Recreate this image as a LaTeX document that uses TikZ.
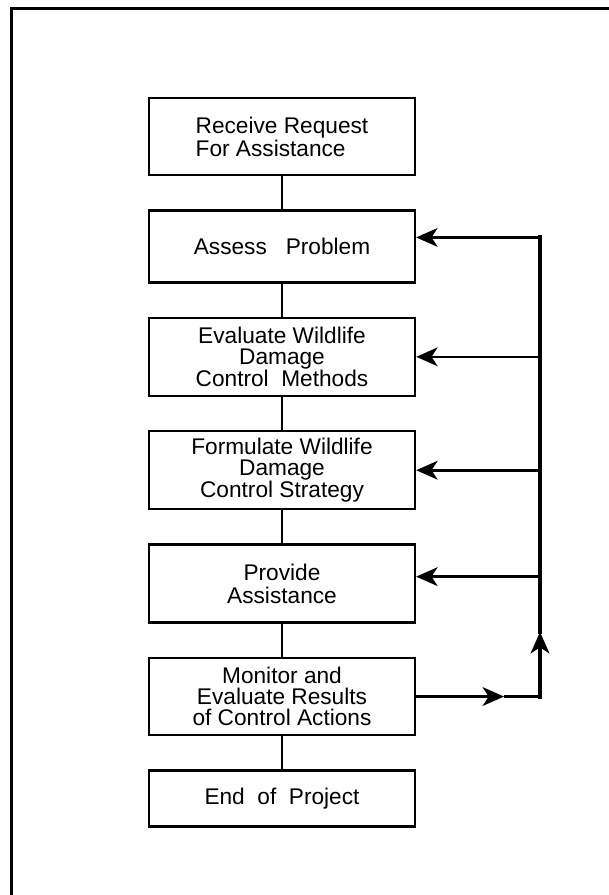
\documentclass[tikz,border=0pt]{standalone}
\usepackage{fontspec}
\setmainfont{Liberation Sans}
\usetikzlibrary{arrows.meta,positioning}

\begin{document}
\begin{tikzpicture}[>={Stealth[length=16pt,width=14pt,inset=4.5pt]}, node distance=24.75pt]
        \tikzstyle{stepbox}=[draw=black,line width=1.8pt,minimum width=199.5pt,align=center,inner sep=2pt,font=\fontsize{17}{15.8}\selectfont]
        \tikzstyle{link}=[line width=2pt]
        \tikzstyle{feedback}=[line width=2pt]
        \tikzstyle{trunkline}=[line width=3pt,line cap=rect]

        \useasboundingbox (0,0) rectangle (456pt,-671.25pt);
        % frame (only top and left edges show)
        \draw[line width=2.2pt] (8.6pt,-690pt) -- (8.6pt,-6.4pt) -- (480pt,-6.4pt);

        \node[stepbox,minimum height=57.75pt,align=left,font=\fontsize{17}{17.25}\selectfont] (receive) at (211.5pt,-102.4pt) {Receive Request\\For Assistance};
        \node[stepbox,minimum height=54pt]    (assess)   [below=of receive]  {Assess\ \ \ Problem};
        \node[stepbox,minimum height=58.5pt]  (evaluate) [below=of assess]   {Evaluate Wildlife\\Damage\\Control\ \ Methods};
        \node[stepbox,minimum height=58.5pt]  (strategy) [below=of evaluate] {Formulate Wildlife\\Damage\\Control Strategy};
        \node[stepbox,minimum height=58.5pt,font=\fontsize{17}{17.25}\selectfont] (provide) [below=of strategy] {Provide\\Assistance};
        \node[stepbox,minimum height=57.75pt,font=\fontsize{17}{16}\selectfont] (monitor) [below=of provide] {Monitor and\\Evaluate Results\\of Control Actions};
        \node[stepbox,minimum height=42pt]    (endproj)  [below=of monitor]  {End\ \ of\ \ Project};

        \path[link] (receive)  edge (assess)
                    (assess)   edge (evaluate)
                    (evaluate) edge (strategy)
                    (strategy) edge (provide)
                    (provide)  edge (monitor)
                    (monitor)  edge (endproj);

        % feedback loop
        \coordinate (trunk) at (405pt,0);
        \coordinate (mid)   at (378pt,0);
        \coordinate (upt)   at (405pt,-474pt);
        \coordinate (a2) at ([yshift=6.75pt]assess.east);
        \coordinate (a5) at ([yshift=5.25pt]provide.east);

        \draw[feedback,->] (monitor.east) -- (monitor.east -| mid);
        \draw[feedback] (monitor.east -| mid) -- (monitor.east -| trunk);
        \draw[trunkline,->] (monitor.east -| trunk) -- (upt);
        \draw[trunkline] (upt) -- (a2 -| trunk);

        \draw[feedback,->] (a2 -| trunk) -- (a2);
        \draw[feedback,->] (evaluate.east -| trunk) -- (evaluate.east);
        \draw[feedback,->] (strategy.east -| trunk) -- (strategy.east);
        \draw[feedback,->] (a5 -| trunk) -- (a5);
\end{tikzpicture}
\end{document}
